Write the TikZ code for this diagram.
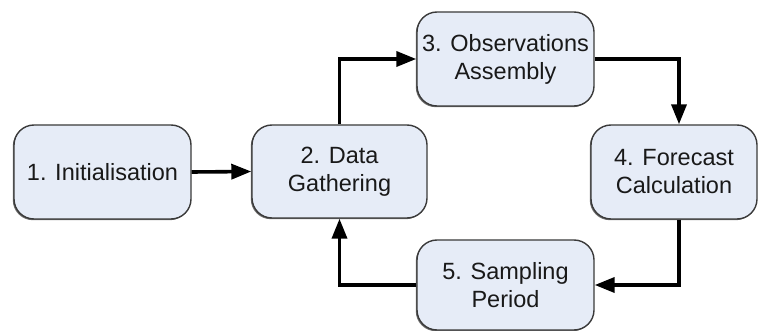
\documentclass[tikz,border=0pt]{standalone}
\usepackage{fontspec}
\setmainfont{Liberation Sans}
\usetikzlibrary{arrows.meta,shadows}
\definecolor{boxfill}{HTML}{E6ECF7}
\definecolor{boxline}{HTML}{3A3A3A}
\tikzset{
  stepbox/.style={draw=boxline, line width=1.4pt, fill=boxfill, rounded corners=20pt,
    align=center, font=\fontsize{23.5}{28}\selectfont, text=black!90,
    inner sep=0pt, drop shadow={shadow xshift=-1.2pt, shadow yshift=-1.2pt, fill=black!70, opacity=0.8}},
  flow/.style={line width=3.6pt, -{Triangle[length=20pt,width=15pt]}}
}
\begin{document}
\begin{tikzpicture}[x=1pt,y=-1pt]
\useasboundingbox (0,0) rectangle (758,331);
\node[stepbox, minimum width=177pt, minimum height=94pt] (b1) at (102.5,172) {1. Initialisation};
\node[stepbox, minimum width=175pt, minimum height=93pt] (b2) at (339.5,171.5) {2. Data\\Gathering};
\node[stepbox, minimum width=177pt, minimum height=94pt] (b3) at (505.5,59) {3. Observations\\Assembly};
\node[stepbox, minimum width=166pt, minimum height=94pt] (b4) at (674,172) {4. Forecast\\Calculation};
\node[stepbox, minimum width=177pt, minimum height=90pt] (b5) at (505.5,285) {5. Sampling\\Period};
\draw[flow] (b1.east) -- (b2.west);
\draw[flow] (b2.north) |- (b3.west);
\draw[flow] (b3.east) -| ([xshift=5pt]b4.north);
\draw[flow] ([xshift=5pt]b4.south) |- (b5.east);
\draw[flow] (b5.west) -| (b2.south);
\end{tikzpicture}
\end{document}
